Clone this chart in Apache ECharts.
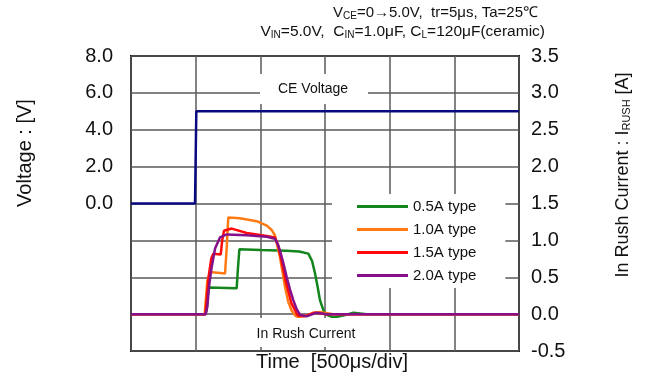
<!DOCTYPE html>
<html>
<head>
<meta charset="utf-8">
<script src="https://cdn.jsdelivr.net/npm/echarts@6/dist/echarts.min.js"></script>
<style>
  html, body { margin: 0; padding: 0; background: #fff; }
  #chart { width: 649px; height: 380px; }
</style>
</head>
<body>
<div id="chart"></div>
<script>
// time in us, 500us per division
const timeTicks = [0, 500, 1000, 1500, 2000, 2500, 3000]
const ceVoltage = [[0, 0], [495, 0], [505, 5], [3000, 5]]
const type05 = [[0, 0], [570, 0], [585, 0.05], [597, 0.36], [611, 0.37], [817, 0.35], [826, 0.6], [838, 0.88], [1000, 0.87], [1200, 0.86], [1300, 0.85], [1371, 0.82], [1400, 0.72], [1423, 0.55], [1445, 0.35], [1461, 0.19], [1490, 0.04], [1513, -0.01], [1564, -0.045], [1641, -0.02], [1719, 0.02], [1822, 0], [3000, 0]]
const type10 = [[0, 0], [570, 0], [590, 0.45], [611, 0.57], [727, 0.55], [740, 0.9], [752, 1.31], [843, 1.3], [972, 1.26], [1050, 1.2], [1088, 1.14], [1113, 1.07], [1135, 0.9], [1152, 0.77], [1191, 0.37], [1215, 0.17], [1242, 0.05], [1270, -0.02], [1294, -0.04], [1358, -0.02], [1410, 0.02], [1461, 0.03], [1564, 0], [3000, 0]]
const type15 = [[0, 0], [575, 0], [600, 0.5], [620, 0.75], [636, 0.82], [694, 0.81], [705, 1.0], [719, 1.13], [779, 1.16], [895, 1.1], [1050, 1.06], [1113, 1.04], [1140, 0.92], [1160, 0.75], [1200, 0.42], [1240, 0.15], [1290, -0.02], [1340, -0.03], [1420, 0.02], [1500, 0], [3000, 0]]
const type20 = [[0, 0], [578, 0], [590, 0.1], [605, 0.4], [624, 0.64], [650, 0.89], [688, 1.04], [740, 1.08], [895, 1.07], [1050, 1.05], [1113, 1.02], [1135, 0.95], [1152, 0.86], [1180, 0.68], [1204, 0.5], [1230, 0.33], [1255, 0.19], [1280, 0.07], [1307, -0.01], [1358, -0.03], [1436, 0.02], [1513, 0], [3000, 0]]
const legendNames = ['0.5A type', '1.0A type', '1.5A type', '2.0A type']

const chart = echarts.init(document.getElementById('chart'), null, { renderer: 'canvas' })
const font = 'Liberation Sans'

const lineSeries = (name, data, color) => ({
  name,
  type: 'line',
  yAxisIndex: 1,
  data,
  showSymbol: false,
  symbol: 'none',
  lineStyle: { color, width: 2.5 },
  itemStyle: { color },
  animation: false
})

const subStyle = size => ({ fontSize: size, fontFamily: font, fill: '#111', verticalAlign: 'bottom', lineHeight: size })

const option = {
  animation: false,
  textStyle: { fontFamily: font },
  grid: { left: 131, right: 130, top: 56, bottom: 29, show: true, borderColor: '#111', borderWidth: 2 },
  xAxis: {
    type: 'value',
    min: timeTicks[0],
    max: timeTicks[timeTicks.length - 1],
    interval: 500,
    axisLine: { show: false },
    axisTick: { show: false },
    axisLabel: { show: false },
    splitLine: { show: true, lineStyle: { color: '#5a5a5a', width: 1.5 } }
  },
  yAxis: [
    {
      type: 'value',
      min: -8,
      max: 8,
      interval: 2,
      axisLine: { show: false },
      axisTick: { show: false },
      axisLabel: {
        color: '#111', fontSize: 20, margin: 18,
        formatter: v => (v < 0 ? '' : v.toFixed(1))
      },
      splitLine: { show: true, lineStyle: { color: '#5a5a5a', width: 1.5 } }
    },
    {
      type: 'value',
      min: -0.5,
      max: 3.5,
      interval: 0.5,
      position: 'right',
      axisLine: { show: false },
      axisTick: { show: false },
      axisLabel: { color: '#111', fontSize: 20, margin: 12, formatter: v => v.toFixed(1) },
      splitLine: { show: false }
    }
  ],
  legend: {
    data: legendNames,
    orient: 'vertical',
    left: 332,
    top: 194,
    backgroundColor: '#fff',
    padding: [5, 29, 5, 25],
    itemWidth: 51,
    itemHeight: 3,
    itemGap: 8,
    icon: 'rect',
    textStyle: { fontSize: 15, color: '#111', fontFamily: font }
  },
  graphic: [
    { type: 'rect', shape: { x: 260, y: 74, width: 108, height: 30 }, style: { fill: '#fff' }, z: 5 },
    { type: 'text', x: 313, y: 89, style: { text: 'CE Voltage', fontSize: 14, fontFamily: font, fill: '#111', align: 'center', verticalAlign: 'middle' }, z: 6 },
    { type: 'rect', shape: { x: 250, y: 318, width: 118, height: 29 }, style: { fill: '#fff' }, z: 5 },
    { type: 'text', x: 306, y: 334, style: { text: 'In Rush Current', fontSize: 14, fontFamily: font, fill: '#111', align: 'center', verticalAlign: 'middle' }, z: 6 },
    { type: 'text', x: 332, y: 362, style: { text: 'Time  [500μs/div]', fontSize: 20, fontFamily: font, fill: '#111', align: 'center', verticalAlign: 'middle' } },
    { type: 'text', x: 25, y: 153, rotation: Math.PI / 2, style: { text: 'Voltage : [V]', fontSize: 20, fontFamily: font, fill: '#111', align: 'center', verticalAlign: 'middle' } },
    {
      type: 'text', x: 623, y: 175, rotation: Math.PI / 2,
      style: {
        text: 'In Rush Current : I{s|RUSH} [A]',
        fontSize: 18, fontFamily: font, fill: '#111', align: 'center', verticalAlign: 'middle',
        rich: { s: subStyle(11) }
      }
    },
    {
      type: 'text', x: 538, y: 13,
      style: {
        text: 'V{s|CE}=0→5.0V,  tr=5μs, Ta=25℃',
        fontSize: 15, fontFamily: font, fill: '#111', align: 'right', verticalAlign: 'middle', lineHeight: 17,
        rich: { s: subStyle(10) }
      }
    },
    {
      type: 'text', x: 545, y: 32,
      style: {
        text: 'V{s|IN}=5.0V,  C{s|IN}=1.0μF, C{s|L}=120μF(ceramic)',
        fontSize: 15.5, fontFamily: font, fill: '#111', align: 'right', verticalAlign: 'middle', lineHeight: 17,
        rich: { s: subStyle(10) }
      }
    }
  ],
  series: [
    {
      name: 'CE Voltage', type: 'line', yAxisIndex: 0, data: ceVoltage, symbol: 'none',
      lineStyle: { color: '#0a0a80', width: 2.5 }, itemStyle: { color: '#0a0a80' }
    },
    lineSeries('0.5A type', type05, '#12861c'),
    lineSeries('1.0A type', type10, '#ff7a12'),
    lineSeries('1.5A type', type15, '#ff0a0a'),
    lineSeries('2.0A type', type20, '#85108a')
  ]
}
chart.setOption(option)
</script>
</body>
</html>
